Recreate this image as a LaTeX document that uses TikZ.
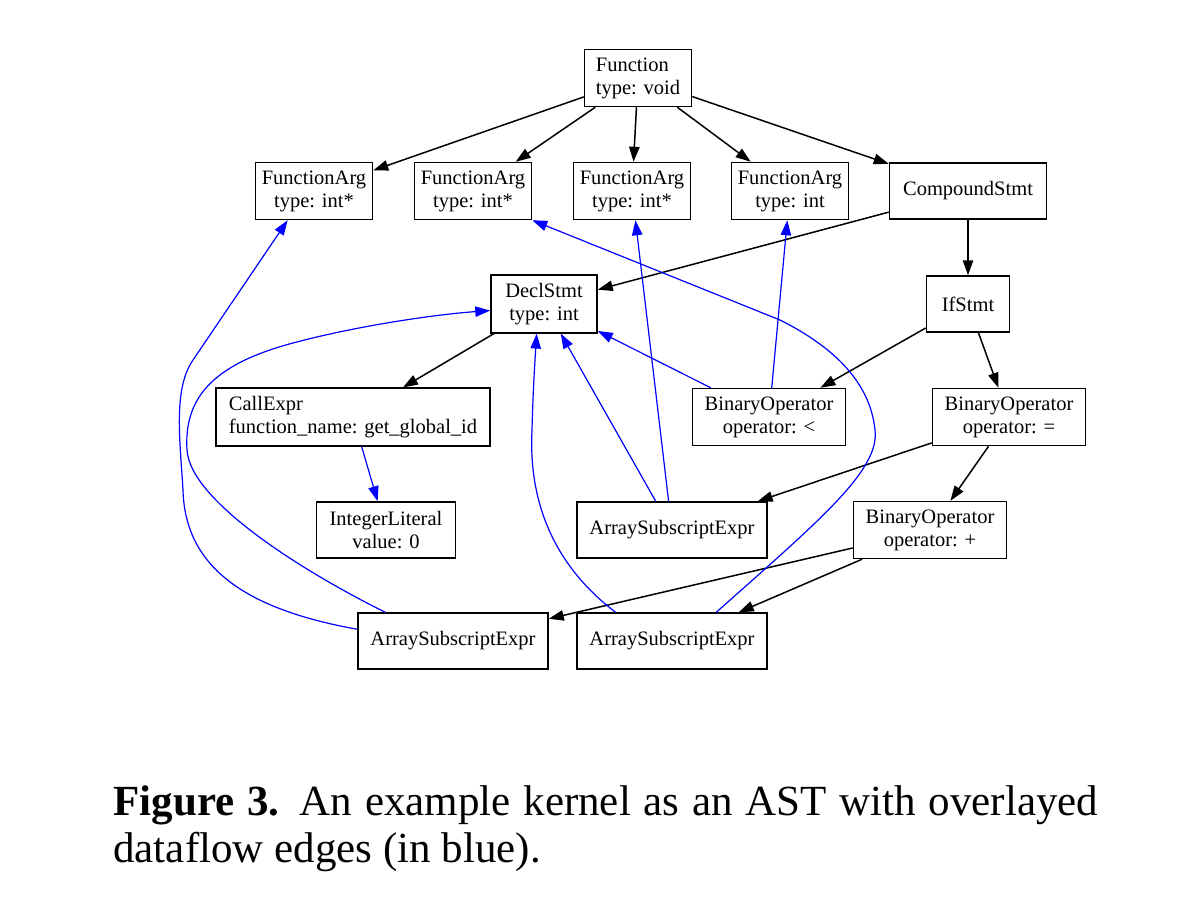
\documentclass[tikz,border=0pt]{standalone}
\usepackage{fontspec}
\setmainfont{Liberation Serif}
\usetikzlibrary{arrows.meta}

\tikzset{
  astnode/.style={draw, rectangle, line width=0.75pt, inner xsep=2pt, inner ysep=4pt,
    minimum height=28pt, align=center, font=\fontsize{10.25}{11.5}\selectfont},
  ast/.style={-{Triangle[length=7.5pt,width=5.2pt]}, line width=0.75pt},
  flow/.style={-{Triangle[length=7.5pt,width=5.2pt]}, blue, line width=0.6pt},
}

\begin{document}
\begin{tikzpicture}[x=0.5pt, y=-0.5pt]
  \useasboundingbox (0,0) rectangle (1188,896);

  \node[astnode, align=left, minimum width=53.5pt] (func) at (638,78) {Function\\type: void};

  \node[astnode, minimum width=58.5pt] (fa1) at (314,191) {FunctionArg\\type: int*};
  \node[astnode, minimum width=58.5pt] (fa2) at (473,191) {FunctionArg\\type: int*};
  \node[astnode, minimum width=58.5pt] (fa3) at (632,191) {FunctionArg\\type: int*};
  \node[astnode, minimum width=58.5pt] (fa4) at (790,191) {FunctionArg\\type: int};
  \node[astnode, minimum width=78.5pt] (comp) at (968,191) {CompoundStmt};

  \node[astnode, minimum width=53pt] (decl) at (544,304) {DeclStmt\\type: int};
  \node[astnode, minimum width=41.5pt] (ifst) at (968,304) {IfStmt};

  \node[astnode, align=left, minimum width=137pt] (call) at (353,417) {CallExpr\\function\_name: get\_global\_id};
  \node[astnode, minimum width=76.5pt] (binlt) at (769,417) {BinaryOperator\\operator: <};
  \node[astnode, minimum width=76.5pt] (bineq) at (1009,417) {BinaryOperator\\operator: =};

  \node[astnode, minimum width=69.5pt] (intlit) at (386,530) {IntegerLiteral\\value: 0};
  \node[astnode, minimum width=95pt] (asub3) at (672,530) {ArraySubscriptExpr};
  \node[astnode, minimum width=76.5pt] (binplus) at (930,530) {BinaryOperator\\operator: +};

  \node[astnode, minimum width=95pt] (asub1) at (453,641) {ArraySubscriptExpr};
  \node[astnode, minimum width=95pt] (asub2) at (672,641) {ArraySubscriptExpr};

  % tree edges
  \foreach \a/\b in {func/fa1, func/fa2, func/fa3, func/fa4, func/comp, comp/decl, comp/ifst,
      decl/call, ifst/binlt, ifst/bineq, bineq/asub3, bineq/binplus, binplus/asub1, binplus/asub2}
    \draw[ast] (\a) -- (\b);

  % dataflow edges
  \foreach \a/\b in {call/intlit, binlt/decl, binlt/fa4, asub3/decl, asub3/fa3}
    \draw[flow] (\a) -- (\b);

  \draw[flow] (asub1.173) .. controls (250,610) and (185,570) .. (183,490)
    .. controls (180,440) and (173,389) .. (193,360) -- (fa1.228);
  \draw[flow] (asub1.157) .. controls (300,570) and (190,500) .. (187,450)
    .. controls (184,400) and (210,365) .. (293,343)
    .. controls (360,325) and (440,314) .. (decl.187);
  \draw[flow] (asub2.153) .. controls (560,570) and (528,510) .. (532,430)
    .. controls (533,390) and (535,360) .. (decl.256);
  \draw[flow] (asub2.33) .. controls (820,520) and (880,470) .. (875,430)
    .. controls (870,380) and (830,345) .. (780,320) -- (fa2.south east);

  \node[anchor=base west, inner sep=0pt, font=\fontsize{21.5}{26}\selectfont] (capa) at (113,815)
    {\makebox[492.5pt][s]{\textbf{Figure 3.} An example kernel as an AST with overlayed}};
  \node[anchor=base west, inner sep=0pt, font=\fontsize{21.5}{26}\selectfont] (capb) at (113,862)
    {dataflow edges (in blue).};
\end{tikzpicture}
\end{document}
